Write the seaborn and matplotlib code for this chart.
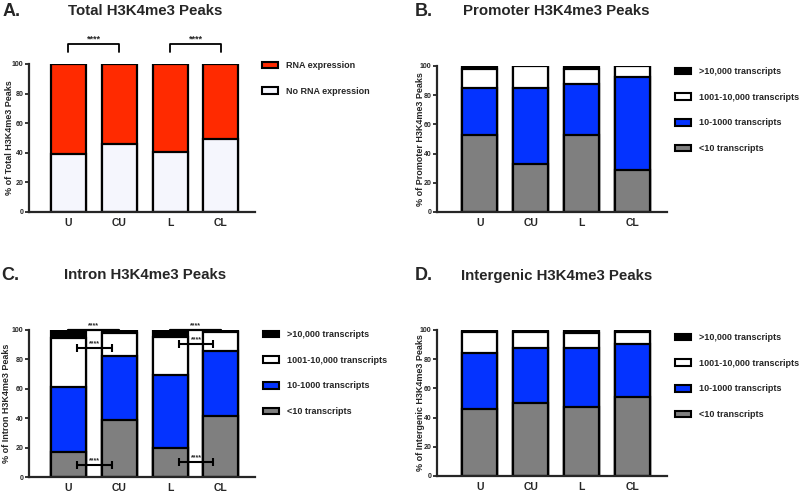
import numpy as np
import pandas as pd
import matplotlib
matplotlib.use("Agg")
import matplotlib.pyplot as plt
from matplotlib.patches import Patch
import seaborn as sns

# ---- data (percent of peaks per group) ----
groups = ["U", "CU", "L", "CL"]

# A. total peaks
total_no_rna = [39.3, 46.1, 40.6, 49.3]
total_rna = [60.7, 53.9, 59.4, 50.7]

# B. promoter peaks
prom_lt10 = [52.5, 32.6, 53.0, 28.5]
prom_10_1000 = [32.7, 52.3, 34.9, 64.0]
prom_1001_10000 = [12.5, 14.8, 9.8, 7.2]
prom_gt10000 = [2.3, 0.3, 2.3, 0.3]

# C. intron peaks
intron_lt10 = [16.8, 38.5, 19.7, 41.7]
intron_10_1000 = [44.4, 43.8, 49.5, 44.3]
intron_1001_10000 = [33.1, 15.7, 26.3, 12.5]
intron_gt10000 = [5.7, 2.0, 4.5, 1.5]

# D. intergenic peaks
inter_lt10 = [45.7, 50.2, 47.5, 53.9]
inter_10_1000 = [38.8, 37.5, 40.2, 36.3]
inter_1001_10000 = [13.9, 10.7, 10.0, 8.2]
inter_gt10000 = [1.6, 1.6, 2.3, 1.6]

expr_labels = [">10,000 transcripts", "1001-10,000 transcripts",
               "10-1000 transcripts", "<10 transcripts"]
expr_colors = ["#000000", "#FFFFFF", "#0433FF", "#7F7F7F"]

# ---- style ----
sns.set_style("ticks")
plt.rcParams["font.family"] = ["Liberation Sans", "DejaVu Sans"]
plt.rcParams["font.weight"] = "bold"

W, H = 800, 491
fig = plt.figure(figsize=(8, 4.91), dpi=100)


def px_rect(x0, x1, ytop, ybot):
    return [x0 / W, 1 - ybot / H, (x1 - x0) / W, (ybot - ytop) / H]


def stacked(ax, layers, colors, xlim):
    # layers listed bottom -> top; draw cumulative from tallest down
    cum = np.cumsum(np.array(layers), axis=0)
    for i in range(len(layers) - 1, -1, -1):
        df = pd.DataFrame({"group": groups, "val": cum[i]})
        sns.barplot(data=df, x="group", y="val", color=colors[i], ax=ax,
                    width=0.69, edgecolor="black", linewidth=1.6,
                    saturation=1, errorbar=None)
    ax.set_xlim(*xlim)
    ax.set_ylim(0, 100)
    ax.set_yticks([0, 20, 40, 60, 80, 100])
    ax.tick_params(axis="y", labelsize=5, length=3, width=1.3, pad=1)
    ax.tick_params(axis="x", labelsize=7.5, length=0, pad=4)
    for lab in ax.get_xticklabels() + ax.get_yticklabels():
        lab.set_fontweight("bold")
    ax.set_xlabel("")
    sns.despine(ax=ax)
    for s in ["left", "bottom"]:
        ax.spines[s].set_linewidth(1.6)


def ylabel(ax, text, x_px, x0_px, w_px):
    # x_px is where the label's centre line should sit
    ax.set_ylabel(text, fontsize=6.5, fontweight="bold")
    ax.yaxis.set_label_coords((x_px + 4 - x0_px) / w_px, 0.5)


def legend(ax, labels, colors, x, y):
    handles = [Patch(facecolor=c, edgecolor="black", linewidth=1.5) for c in colors]
    ax.legend(handles, labels, loc="upper left", bbox_to_anchor=(x / W, 1 - y / H),
              bbox_transform=fig.transFigure, frameon=False,
              handlelength=1.77, handleheight=0.75, handletextpad=0.89,
              labelspacing=1.85, borderpad=0, borderaxespad=0,
              prop={"weight": "bold", "size": 6.5})


def header(letter, title, lx, tx, y):
    fig.text(lx / W, 1 - y / H, letter, fontsize=13, fontweight="bold", va="center")
    fig.text(tx / W, 1 - y / H, title, fontsize=10.8, fontweight="bold",
             va="center", ha="center")


# ---- A ----
axA = fig.add_axes(px_rect(29, 255, 64, 212))
stacked(axA, [total_no_rna, total_rna], ["#F5F6FD", "#FF2A00"], (-0.775, 3.67))
ylabel(axA, "% of Total H3K4me3 Peaks", 10, 29, 226)
legend(axA, ["RNA expression", "No RNA expression"], ["#FF2A00", "#F5F6FD"], 262, 61)
for a, b in [(0, 1), (2, 3)]:
    axA.plot([a, a, b, b], [107.8, 113.4, 113.4, 107.8], color="black", lw=1.3,
             clip_on=False)
    axA.text((a + b) / 2, 114, "****", ha="center", va="bottom", fontsize=6.5,
             fontweight="bold")
header("A.", "Total H3K4me3 Peaks", 3, 145, 11)

# ---- B ----
axB = fig.add_axes(px_rect(437, 667, 66, 212))
stacked(axB, [prom_lt10, prom_10_1000, prom_1001_10000, prom_gt10000],
        expr_colors[::-1], (-0.84, 3.67))
ylabel(axB, "% of Promoter H3K4me3 Peaks", 421, 437, 230)
legend(axB, expr_labels, expr_colors, 675, 67)
header("B.", "Promoter H3K4me3 Peaks", 415, 556, 11)

# ---- C ----
axC = fig.add_axes(px_rect(29, 255, 330, 477))
stacked(axC, [intron_lt10, intron_10_1000, intron_1001_10000, intron_gt10000],
        expr_colors[::-1], (-0.775, 3.67))
ylabel(axC, "% of Intron H3K4me3 Peaks", 7, 29, 226)
legend(axC, expr_labels, expr_colors, 263, 330)
for a, b in [(0, 1), (2, 3)]:
    axC.plot([a, b], [100, 100], color="black", lw=1.6, clip_on=False)
    axC.text((a + b) / 2, 100.8, "****", ha="center", va="bottom", fontsize=5,
             fontweight="bold")
for a, yb in [(0.51, 87.5), (2.51, 90.5), (0.51, 7.9), (2.51, 10.0)]:
    axC.errorbar([a], [yb], xerr=[[0.34]], fmt="none", ecolor="black", elinewidth=1.5,
                 capsize=3, capthick=1.5)
    axC.text(a, yb + 0.8, "****", ha="center", va="bottom", fontsize=5,
             fontweight="bold")
header("C.", "Intron H3K4me3 Peaks", 1, 145, 275)

# ---- D ----
axD = fig.add_axes(px_rect(437, 667, 330, 476))
stacked(axD, [inter_lt10, inter_10_1000, inter_1001_10000, inter_gt10000],
        expr_colors[::-1], (-0.84, 3.67))
ylabel(axD, "% of Intergenic H3K4me3 Peaks", 421, 437, 230)
legend(axD, expr_labels, expr_colors, 675, 333)
header("D.", "Intergenic H3K4me3 Peaks", 415, 557, 276)

fig.savefig("out.png", dpi=100)
